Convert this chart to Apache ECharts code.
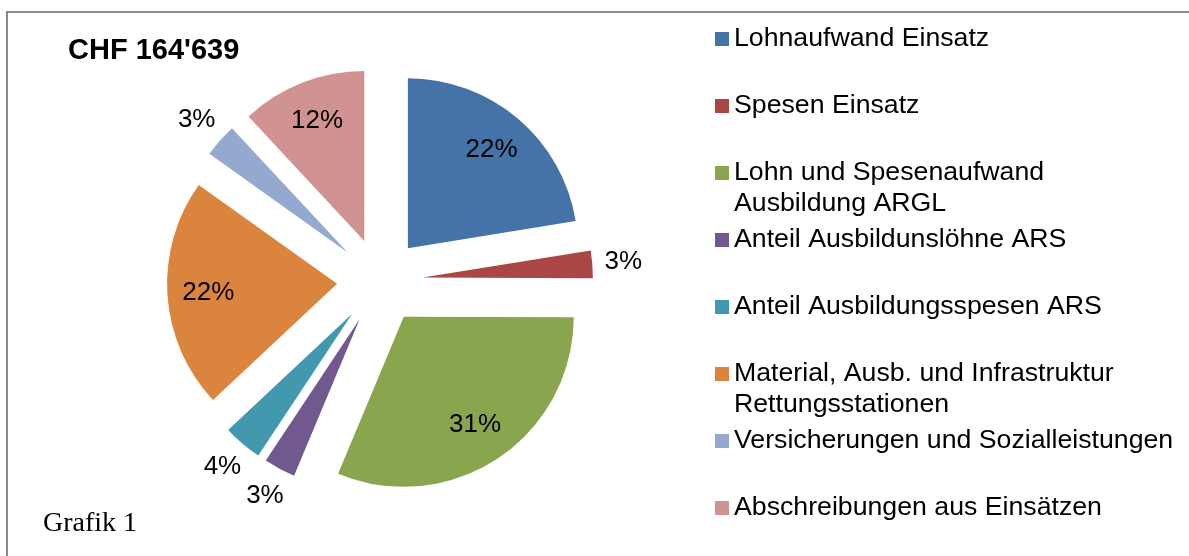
<!DOCTYPE html>
<html>
<head>
<meta charset="utf-8">
<script src="https://cdn.jsdelivr.net/npm/echarts@6/dist/echarts.min.js"></script>
<style>
  html, body { margin: 0; padding: 0; background: #fff; }
  #chart { width: 1189px; height: 556px; }
</style>
</head>
<body>
<div id="chart"></div>
<script>
// Kategorien und Anteile (in %)
var categories = [
  'Lohnaufwand Einsatz',
  'Spesen Einsatz',
  'Lohn und Spesenaufwand\nAusbildung ARGL',
  'Anteil Ausbildunslöhne ARS',
  'Anteil Ausbildungsspesen ARS',
  'Material, Ausb. und Infrastruktur\nRettungsstationen',
  'Versicherungen und Sozialleistungen',
  'Abschreibungen aus Einsätzen'
];
var values = [22.4, 2.6, 31.2, 3.0, 3.7, 21.8, 3.2, 11.9];
var colors = ['#4572a7', '#aa4643', '#89a54e', '#71588f', '#4198af', '#db843d', '#93a9cf', '#d19392'];
// kleine Segmente: Beschriftung ausserhalb
var outsideLabel = [false, true, false, true, true, false, true, false];
var totalText = "CHF 164'639";
var captionText = 'Grafik 1';

var FONT = 'Liberation Sans, Arial, sans-serif';
var CENTER = [380, 281];
var R = 170;
var EXPLODE = 43;

var chart = echarts.init(document.getElementById('chart'));

function pieData(showFn) {
  return categories.map(function (name, i) {
    return {
      name: name,
      value: values[i],
      selected: true,
      label: { show: showFn(i) }
    };
  });
}

function labelSeries(radius, showFn) {
  return {
    type: 'pie',
    center: CENTER,
    radius: radius,
    startAngle: 90,
    clockwise: true,
    selectedMode: 'multiple',
    selectedOffset: EXPLODE,
    percentPrecision: 0,
    avoidLabelOverlap: false,
    minShowLabelAngle: 0,
    silent: true,
    itemStyle: { color: 'rgba(0,0,0,0)', borderWidth: 0 },
    label: {
      position: 'inside',
      formatter: '{d}%',
      fontFamily: FONT,
      fontSize: 26,
      color: '#000'
    },
    labelLine: { show: false },
    labelLayout: { hideOverlap: false },
    emphasis: { disabled: true },
    data: pieData(showFn)
  };
}

var option = {
  animation: false,
  color: colors,
  title: [{
    text: totalText,
    left: 68,
    top: 36,
    padding: 0,
    textStyle: { fontFamily: FONT, fontSize: 29, fontWeight: 'bold', color: '#000' }
  }, {
    text: captionText,
    left: 43,
    top: 510,
    padding: 0,
    textStyle: { fontFamily: 'Liberation Serif, Times New Roman, serif', fontSize: 28, fontWeight: 'normal', color: '#000' }
  }],
  legend: {
    orient: 'vertical',
    left: 715,
    top: -7.5,
    padding: 0,
    itemGap: -26,
    itemWidth: 14,
    itemHeight: 14,
    icon: 'rect',
    selectedMode: false,
    // drei Zeilen pro Eintrag: leer / Text / (zweite Zeile oder leer),
    // damit die erste Textzeile auf Höhe des Symbols steht
    formatter: function (name) {
      return ' \n' + name + (name.indexOf('\n') >= 0 ? '' : '\n ');
    },
    textStyle: {
      fontFamily: FONT,
      fontSize: 26.7,
      lineHeight: 31,
      color: '#000'
    },
    data: categories
  },
  graphic: [{
    type: 'rect',
    silent: true,
    shape: { x: 7, y: 12, width: 1300, height: 700 },
    style: { fill: 'none', stroke: '#8a8a8a', lineWidth: 2 }
  }],
  series: [
    {
      type: 'pie',
      center: CENTER,
      radius: [0, R],
      startAngle: 90,
      clockwise: true,
      selectedMode: 'multiple',
      selectedOffset: EXPLODE,
      silent: true,
      itemStyle: { borderWidth: 0 },
      label: { show: false },
      labelLine: { show: false },
      emphasis: { disabled: true },
      data: pieData(function () { return false; })
    },
    labelSeries([82, R], function (i) { return !outsideLabel[i]; }),
    labelSeries([R, 226], function (i) { return outsideLabel[i]; })
  ]
};

chart.setOption(option);
</script>
</body>
</html>
